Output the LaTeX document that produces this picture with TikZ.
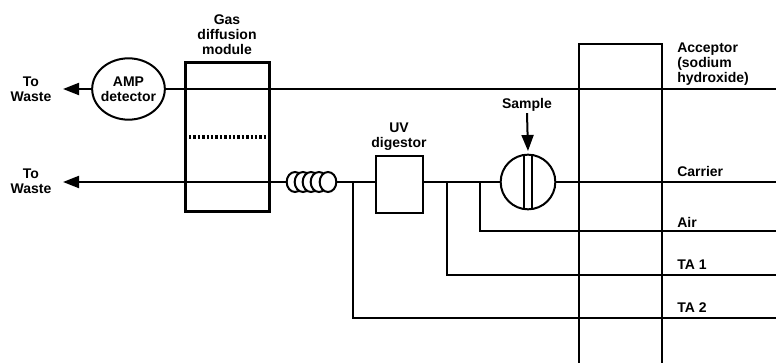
\documentclass[tikz,border=0pt]{standalone}
\usepackage{fontspec}
\setmainfont{Liberation Sans}
\usetikzlibrary{shapes.geometric,arrows.meta}

\tikzset{
  pipe/.style={line width=1.5pt},
  flow/.style={pipe,-{Stealth[length=12pt,width=9pt,inset=0pt]}},
  lbl/.style={font=\fontsize{10.5}{11.25}\selectfont\bfseries,align=center,inner sep=0pt},
  lblright/.style={lbl,align=left,anchor=west},
  coil/.style={draw,pipe,fill=white,ellipse,inner sep=0pt,minimum width=12.5pt,minimum height=15pt}
}

\begin{document}
\begin{tikzpicture}[x=0.75pt,y=-0.75pt]
    \useasboundingbox (0,0) rectangle (776,363);

    % free ends of the lines
    \coordinate (tipa) at (63,89);
    \coordinate (tipc) at (63,182);
    \coordinate (enda) at (776,89);
    \coordinate (endc) at (776,182);
    \coordinate (endair) at (776,231);
    \coordinate (endtaa) at (776,275);
    \coordinate (endtab) at (776,318);
    \coordinate (joinair) at (480,182);
    \coordinate (jointaa) at (447,182);
    \coordinate (jointab) at (353,182);

    % draw components
    \node[lbl,draw,pipe,ellipse,inner sep=-3pt,minimum width=54.5pt,minimum height=46pt] (amp) at (128.5,89) {AMP\\detector};
    \draw[line width=2.25pt] (185,63) rectangle (269,212);
    \node[inner sep=0pt] (modl) at (188,137) {};
    \node[inner sep=0pt] (modr) at (268,137) {};
    \draw[line width=2.6pt,dash pattern=on 1.8pt off 1.5pt] (modl) -- (modr);
    \node[draw,line width=1.1pt,fill=white,minimum width=35pt,minimum height=43pt,inner sep=0pt] (uv) at (399.5,184.5) {};
    \node[draw,pipe,circle,inner sep=0pt,minimum size=41pt] (valve) at (528,182) {};
    \draw[pipe] ([xshift=-3pt]valve.north) -- ([xshift=-3pt]valve.south);
    \draw[pipe] ([xshift=3pt]valve.north) -- ([xshift=3pt]valve.south);

    % draw coil
    \foreach \n/\x in {1/295,2/303,3/311,4/319,5/328}
      \node[coil] (coil\n) at (\x,182) {};

    % draw lines
    \draw[flow] (amp) -- (tipa);
    \draw[pipe] (amp) -- (enda);
    \draw[flow] (coil1) -- (tipc);
    \draw[pipe] (coil5) -- (uv.west |- coil5);
    \draw[pipe] (uv.east |- valve) -- (valve);
    \draw[pipe] (valve) -- (endc);
    \draw[pipe] (joinair) |- (endair);
    \draw[pipe] (jointaa) |- (endtaa);
    \draw[pipe] (jointab) |- (endtab);

    % draw column
    \draw[line width=2pt] (579,363) -- (579,44) -- (662,44) -- (662,363);

    % draw labels
    \node[lbl] (wastea) at (31,89) {To\\Waste};
    \node[lbl] (wastec) at (31,181) {To\\Waste};
    \node[lbl] (gdm) at (227,35) {Gas\\diffusion\\module};
    \node[lbl] (uvlbl) at (399,137) {UV\\digestor};
    \node[lbl] (sample) at (527,105) {Sample};
    \draw[flow] ([yshift=-1pt]sample.south) -- ([yshift=2pt]valve.north);
    \node[lblright] (acceptor) at (677,64) {Acceptor\\(sodium\\hydroxide)};
    \node[lblright] (carrier) at (677,171) {Carrier};
    \node[lblright] (air) at (677,222) {Air};
    \node[lblright] (taa) at (677,265) {TA 1};
    \node[lblright] (tab) at (677,308) {TA 2};
\end{tikzpicture}
\end{document}
